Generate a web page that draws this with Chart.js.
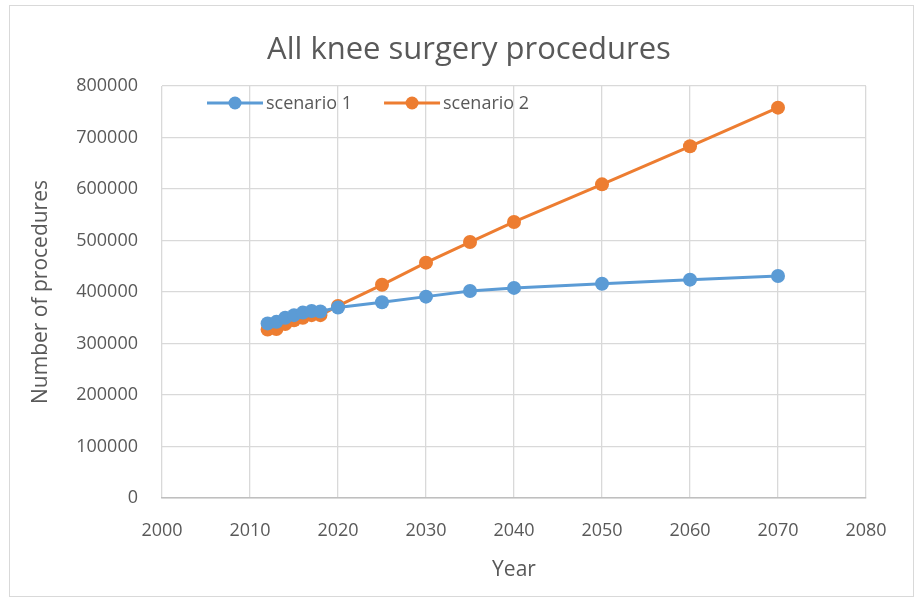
<!DOCTYPE html>
<html>
<head>
<meta charset="utf-8">
<script src="https://cdn.jsdelivr.net/npm/chart.js@4.4.0/dist/chart.umd.min.js"></script>
<style>
  html, body { margin: 0; padding: 0; background: #fff; }
  #wrap { width: 917px; height: 601px; position: relative; }
  #frame { position: absolute; left: 9px; top: 5px; width: 905px; height: 592px; border: 1px solid #d9d9d9; box-sizing: border-box; }
</style>
</head>
<body>
<div id="wrap">
  <div id="frame"></div>
  <canvas id="chart" width="917" height="601"></canvas>
</div>
<script>
// years and values
const years1 = [2012, 2013, 2014, 2015, 2016, 2017, 2018, 2020, 2025, 2030, 2035, 2040, 2050, 2060, 2070];
const scenario1 = [339000, 342000, 350000, 355000, 360000, 363000, 362000, 370000, 380000, 391000, 402000, 408000, 416000, 424000, 431000];
const years2 = [2012, 2013, 2014, 2015, 2016, 2017, 2018, 2020, 2025, 2030, 2035, 2040, 2050, 2060, 2070];
const scenario2 = [327000, 328000, 338000, 345000, 350000, 355000, 355000, 373000, 414000, 457000, 497000, 536000, 609000, 683000, 758000];
const seriesNames = ['scenario 1', 'scenario 2'];
const seriesColors = ['#5b9bd5', '#ed7d31'];
const chartTitle = 'All knee surgery procedures';

const FONT = "'Open Sans', 'Liberation Sans', sans-serif";
const GREY = '#595959';

const toPoints = (xs, ys) => xs.map((x, i) => ({ x: x, y: ys[i] }));

// title sits a bit right of the canvas centre, over the plot
const titlePlugin = {
  id: 'titlePlugin',
  afterDraw(chart) {
    const ctx = chart.ctx;
    ctx.save();
    ctx.font = "31px " + FONT;
    ctx.fillStyle = GREY;
    ctx.textAlign = 'center';
    ctx.textBaseline = 'middle';
    ctx.fillText(chartTitle, 469, 50);
    ctx.restore();
  }
};

// legend drawn inside the plot area, line + dot like the original
const insideLegend = {
  id: 'insideLegend',
  afterDraw(chart) {
    const ctx = chart.ctx;
    const area = chart.chartArea;
    let x = area.left + 45;
    const y = area.top + 17;
    ctx.save();
    ctx.font = "18px " + FONT;
    ctx.textBaseline = 'middle';
    chart.data.datasets.forEach(ds => {
      ctx.strokeStyle = ds.borderColor;
      ctx.lineWidth = 3;
      ctx.beginPath();
      ctx.moveTo(x, y);
      ctx.lineTo(x + 56, y);
      ctx.stroke();
      ctx.fillStyle = ds.backgroundColor;
      ctx.beginPath();
      ctx.arc(x + 28, y, 6.5, 0, Math.PI * 2);
      ctx.fill();
      ctx.fillStyle = GREY;
      ctx.fillText(ds.label, x + 59, y + 1);
      x += 59 + ctx.measureText(ds.label).width + 32;
    });
    ctx.restore();
  }
};

new Chart(document.getElementById('chart'), {
  type: 'line',
  data: {
    datasets: [
      {
        label: seriesNames[0],
        data: toPoints(years1, scenario1),
        borderColor: seriesColors[0],
        backgroundColor: seriesColors[0],
        borderWidth: 3,
        pointRadius: 7,
        pointHoverRadius: 7,
        pointBorderWidth: 0,
        tension: 0
      },
      {
        label: seriesNames[1],
        data: toPoints(years2, scenario2),
        borderColor: seriesColors[1],
        backgroundColor: seriesColors[1],
        borderWidth: 3,
        pointRadius: 7,
        pointHoverRadius: 7,
        pointBorderWidth: 0,
        tension: 0
      }
    ]
  },
  options: {
    responsive: false,
    animation: false,
    layout: { padding: { left: 24, right: 51, top: 86, bottom: 14 } },
    plugins: {
      legend: { display: false },
      tooltip: { enabled: false },
      title: { display: false }
    },
    scales: {
      x: {
        type: 'linear',
        min: 2000,
        max: 2080,
        ticks: { stepSize: 10, color: GREY, font: { family: FONT, size: 18 }, padding: 22, callback: v => String(v) },
        grid: { color: '#d9d9d9', lineWidth: 1.3, drawTicks: false },
        border: { color: '#bfbfbf', width: 1.5 },
        title: { display: true, text: 'Year', color: GREY, font: { family: FONT, size: 21 }, padding: { top: 6 } },
        afterFit(scale) { scale.height = 89; }
      },
      y: {
        min: 0,
        max: 800000,
        ticks: { stepSize: 100000, color: GREY, font: { family: FONT, size: 18 }, padding: 24, callback: v => String(v) },
        grid: { color: '#d9d9d9', lineWidth: 1.3, drawTicks: false },
        border: { display: false },
        title: { display: true, text: 'Number of procedures', color: GREY, font: { family: FONT, size: 21 }, padding: { bottom: 0 } },
        afterFit(scale) { scale.width = 138; }
      }
    }
  },
  plugins: [titlePlugin, insideLegend]
});
</script>
</body>
</html>
